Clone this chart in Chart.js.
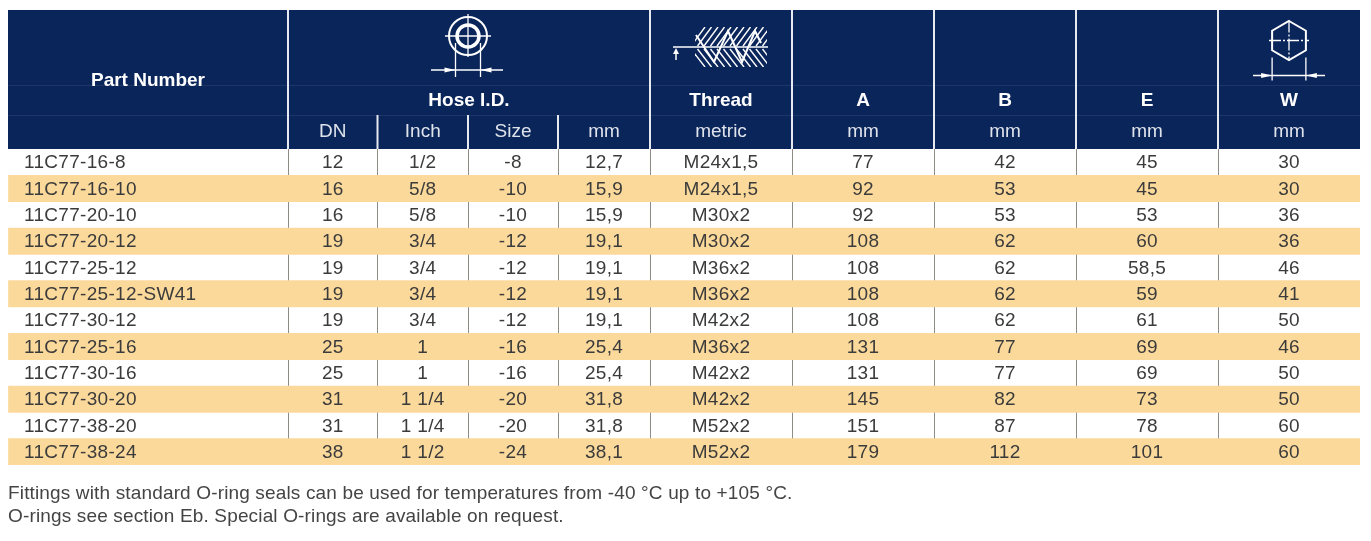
<!DOCTYPE html>
<html lang="en">
<head>
  <meta charset="UTF-8" />
  <title>11C77 fittings | dimensions</title>
  <script src="https://cdn.jsdelivr.net/npm/chart.js"></script>
  <style>
    html, body { margin: 0; padding: 0; background: #fff; overflow: hidden; }
    #wrap { position: relative; width: 1371px; height: 541px; }
  </style>
</head>
<body>
<div id="wrap"><canvas id="table"></canvas></div>

<script>
  // rows of the table
  const partNumbers = ['11C77-16-8', '11C77-16-10', '11C77-20-10', '11C77-20-12', '11C77-25-12', '11C77-25-12-SW41',
                       '11C77-30-12', '11C77-25-16', '11C77-30-16', '11C77-30-20', '11C77-38-20', '11C77-38-24'];
  const dnValues = [12, 16, 16, 19, 19, 19, 19, 25, 25, 31, 31, 38];
  const inchValues = ['1/2', '5/8', '5/8', '3/4', '3/4', '3/4', '3/4', '1', '1', '1 1/4', '1 1/4', '1 1/2'];
  const sizeValues = ['-8', '-10', '-10', '-12', '-12', '-12', '-12', '-16', '-16', '-20', '-20', '-24'];
  const mmValues = ['12,7', '15,9', '15,9', '19,1', '19,1', '19,1', '19,1', '25,4', '25,4', '31,8', '31,8', '38,1'];
  const threadValues = ['M24x1,5', 'M24x1,5', 'M30x2', 'M30x2', 'M36x2', 'M36x2', 'M42x2', 'M36x2', 'M42x2', 'M42x2', 'M52x2', 'M52x2'];
  const aValues = [77, 92, 92, 108, 108, 108, 108, 131, 131, 145, 151, 179];
  const bValues = [42, 53, 53, 62, 62, 62, 62, 77, 77, 82, 87, 112];
  const eValues = ['45', '45', '53', '60', '58,5', '59', '61', '69', '69', '73', '78', '101'];
  const wValues = [30, 30, 36, 36, 46, 41, 50, 46, 50, 50, 60, 60];

  // header texts
  const headTitles = ['Thread', 'A', 'B', 'E', 'W'];
  const headUnits = ['DN', 'Inch', 'Size', 'mm', 'metric', 'mm', 'mm', 'mm', 'mm'];
  const notes = [
    'Fittings with standard O-ring seals can be used for temperatures from -40 °C up to +105 °C.',
    'O-rings see section Eb. Special O-rings are available on request.'
  ];

  // layout: column widths in px, left to right
  const colWidths = [280, 89.5, 90.5, 90, 92, 142, 142, 142, 142, 142];
  const colEdges = colWidths.reduce((acc, w) => { acc.push(acc[acc.length - 1] + w); return acc; }, [0]);
  const tableWidth = colEdges[colEdges.length - 1];
  const columns = [dnValues, inchValues, sizeValues, mmValues, threadValues, aValues, bValues, eValues, wValues];

  const NAVY = '#0a2559';
  const STRIPE = '#fbd99b';
  const INK = '#3b3b3b';
  const FONT = '"Liberation Sans", Arial, sans-serif';
  const HEAD_TOP = 10;

  function line(ctx, x1, y1, x2, y2) {
    ctx.beginPath();
    ctx.moveTo(x1, y1);
    ctx.lineTo(x2, y2);
    ctx.stroke();
  }

  function arrow(ctx, tipX, tipY, dir) {
    ctx.beginPath();
    ctx.moveTo(tipX, tipY);
    ctx.lineTo(tipX - dir * 11, tipY - 2.4);
    ctx.lineTo(tipX - dir * 11, tipY + 2.4);
    ctx.closePath();
    ctx.fill();
  }

  function hoseIcon(ctx, cx, cy) {
    ctx.lineWidth = 2;
    ctx.beginPath(); ctx.arc(cx, cy, 19, 0, Math.PI * 2); ctx.stroke();
    ctx.lineWidth = 3.5;
    ctx.beginPath(); ctx.arc(cx, cy, 11, 0, Math.PI * 2); ctx.stroke();
    ctx.lineWidth = 1.3;
    line(ctx, cx - 23, cy, cx + 23, cy);
    line(ctx, cx, cy - 22, cx, cy + 21);
    line(ctx, cx - 12.5, cy + 7, cx - 12.5, cy + 41);
    line(ctx, cx + 12.5, cy + 7, cx + 12.5, cy + 41);
    line(ctx, cx - 37, cy + 34, cx + 35, cy + 34);
    arrow(ctx, cx - 12.5, cy + 34, 1);
    arrow(ctx, cx + 12.5, cy + 34, -1);
  }

  function threadIcon(ctx, cx, cy) {
    ctx.lineWidth = 1.5;
    line(ctx, cx - 48, cy, cx + 47, cy);
    line(ctx, cx - 45, cy + 13, cx - 45, cy + 3);
    ctx.beginPath();
    ctx.moveTo(cx - 45, cy + 1);
    ctx.lineTo(cx - 48, cy + 7);
    ctx.lineTo(cx - 42, cy + 7);
    ctx.closePath();
    ctx.fill();
    // hatching above and below the pitch line
    ctx.save();
    ctx.beginPath();
    ctx.rect(cx - 26, cy - 20, 72, 40);
    ctx.clip();
    ctx.lineWidth = 1.4;
    for (let k = -30; k < 50; k += 6.5) {
      line(ctx, cx + k, cy - 1, cx + k + 14, cy - 20);
      line(ctx, cx + k, cy + 2, cx + k + 14, cy + 20);
    }
    ctx.restore();
    // thread profile
    ctx.lineWidth = 2;
    ctx.beginPath();
    ctx.moveTo(cx - 25, cy - 12);
    ctx.lineTo(cx - 7, cy + 15);
    ctx.lineTo(cx + 7, cy - 16);
    ctx.lineTo(cx + 21, cy + 15);
    ctx.lineTo(cx + 34, cy - 16);
    ctx.lineTo(cx + 40, cy - 4);
    ctx.stroke();
  }

  function hexIcon(ctx, cx, cy) {
    const r = 19.5;
    ctx.lineWidth = 2;
    ctx.beginPath();
    for (let k = 0; k < 6; k++) {
      const ang = -Math.PI / 2 + k * Math.PI / 3;
      const px = cx + r * Math.cos(ang), py = cy + r * Math.sin(ang);
      k === 0 ? ctx.moveTo(px, py) : ctx.lineTo(px, py);
    }
    ctx.closePath();
    ctx.stroke();
    ctx.lineWidth = 1.3;
    ctx.setLineDash([12, 2, 2, 2]);
    line(ctx, cx - 20, cy, cx + 20, cy);
    line(ctx, cx, cy - 20, cx, cy + 20);
    ctx.setLineDash([]);
    const half = r * Math.cos(Math.PI / 6);
    line(ctx, cx - half, cy + 17, cx - half, cy + 40);
    line(ctx, cx + half, cy + 17, cx + half, cy + 40);
    line(ctx, cx - 36, cy + 35, cx + 36, cy + 35);
    arrow(ctx, cx - half, cy + 35, 1);
    arrow(ctx, cx + half, cy + 35, -1);
  }

  const tablePlugin = {
    id: 'tableHeader',
    beforeDraw(chart) {
      const { ctx, chartArea: a, scales: { x } } = chart;
      const px = i => x.getPixelForValue(colEdges[i]);
      ctx.save();
      ctx.fillStyle = NAVY;
      ctx.fillRect(a.left, HEAD_TOP, a.right - a.left, a.top - HEAD_TOP);
      ctx.strokeStyle = 'rgba(255,255,255,0.08)';
      ctx.lineWidth = 1;
      line(ctx, a.left, 85.5, a.right, 85.5);
      line(ctx, a.left, 115.5, a.right, 115.5);
      ctx.strokeStyle = '#e6e9ef';
      ctx.lineWidth = 2;
      [1, 5, 6, 7, 8, 9].forEach(i => line(ctx, px(i), HEAD_TOP, px(i), a.top));
      [2, 3, 4].forEach(i => line(ctx, px(i), 115, px(i), a.top));

      // titles
      ctx.fillStyle = '#fff';
      ctx.textAlign = 'center';
      ctx.textBaseline = 'middle';
      ctx.font = 'bold 19px ' + FONT;
      ctx.fillText('Part Number', (px(0) + px(1)) / 2, 81);
      ctx.fillText('Hose I.D.', (px(1) + px(5)) / 2, 101);
      headTitles.forEach((t, k) => ctx.fillText(t, (px(k + 5) + px(k + 6)) / 2, 101));
      ctx.fillStyle = '#dfe3eb';
      ctx.font = '19px ' + FONT;
      headUnits.forEach((t, k) => ctx.fillText(t, (px(k + 1) + px(k + 2)) / 2, 132));

      // drawings
      ctx.strokeStyle = '#fff';
      ctx.fillStyle = '#fff';
      hoseIcon(ctx, (px(1) + px(5)) / 2 - 1, 36);
      threadIcon(ctx, (px(5) + px(6)) / 2, 47);
      hexIcon(ctx, (px(9) + px(10)) / 2, 40.5);
      ctx.restore();
    },
    afterDraw(chart) {
      const { ctx, chartArea: a, scales: { x, y } } = chart;
      const px = i => x.getPixelForValue(colEdges[i]);
      ctx.save();
      ctx.fillStyle = INK;
      ctx.textBaseline = 'middle';
      ctx.font = '19px ' + FONT;
      ctx.letterSpacing = '0.3px';
      partNumbers.forEach((p, r) => {
        const cy = y.getPixelForValue(r) + 1;
        ctx.textAlign = 'left';
        ctx.fillText(p, px(0) + 16, cy);
        ctx.textAlign = 'center';
        columns.forEach((col, c) => ctx.fillText(String(col[r]), (px(c + 1) + px(c + 2)) / 2, cy));
      });
      ctx.fillStyle = '#444';
      ctx.textAlign = 'left';
      ctx.letterSpacing = '0.15px';
      notes.forEach((n, k) => ctx.fillText(n, a.left, a.bottom + 29 + k * 23));
      ctx.restore();
    }
  };

  new Chart(document.getElementById('table'), {
    type: 'bar',
    data: {
      labels: partNumbers,
      datasets: [{
        label: 'stripe',
        data: partNumbers.map((p, i) => i % 2 === 1 ? [0, tableWidth] : null),
        backgroundColor: STRIPE,
        borderWidth: 0,
        barPercentage: 1,
        categoryPercentage: 1
      }]
    },
    options: {
      indexAxis: 'y',
      responsive: true,
      maintainAspectRatio: false,
      animation: false,
      layout: { padding: { top: 149, bottom: 76, left: 8, right: 11 } },
      plugins: { legend: { display: false }, tooltip: { enabled: false } },
      scales: {
        y: { type: 'category', display: false, offset: true },
        x: {
          type: 'linear',
          min: 0,
          max: tableWidth,
          z: 1,
          afterBuildTicks: scale => { scale.ticks = colEdges.map(v => ({ value: v })); },
          ticks: { display: false },
          border: { display: false },
          grid: {
            drawTicks: false,
            lineWidth: 1,
            color: c => (c.index === 0 || c.index === colEdges.length - 1) ? 'rgba(0,0,0,0)' : '#8e8a84'
          }
        }
      }
    },
    plugins: [tablePlugin]
  });
</script>
</body>
</html>
